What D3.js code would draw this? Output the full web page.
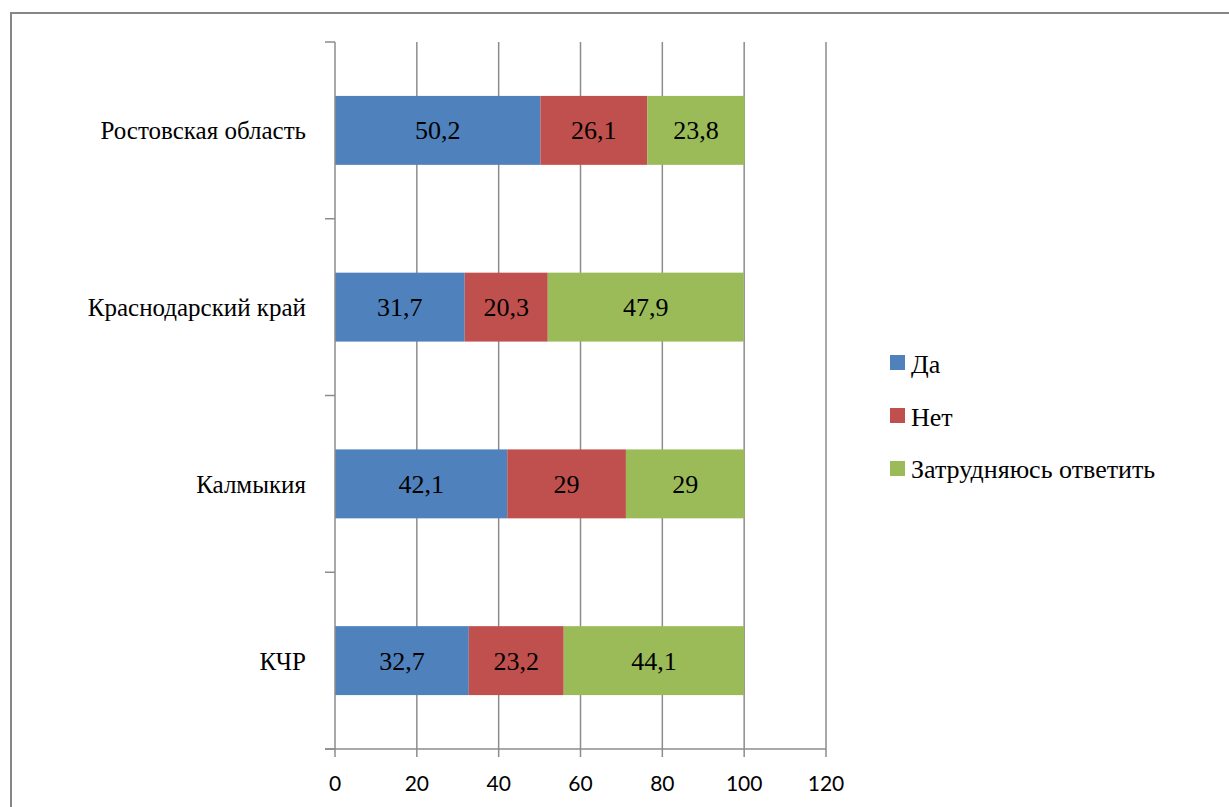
<!DOCTYPE html>
<html><head><meta charset="utf-8">
<script src="https://cdn.jsdelivr.net/npm/d3@7"></script>
<style>
text.serif { font-family: "Liberation Serif" !important; }
text.sans { font-family: "Lato" !important; }
</style>
</head><body style="margin:0">
<svg id="c" width="1229" height="807"></svg>
<script>
const categories = ["Ростовская область", "Краснодарский край", "Калмыкия", "КЧР"];
const seriesNames = ["Да", "Нет", "Затрудняюсь ответить"];
const da = [50.2, 31.7, 42.1, 32.7];
const net = [26.1, 20.3, 29, 23.2];
const zatr = [23.8, 47.9, 29, 44.1];
const xTicks = [0, 20, 40, 60, 80, 100, 120];
const colors = ["#4F81BD", "#C0504D", "#9BBB59"];

const svg = d3.select("#c");
svg.append("rect").attr("x", 11).attr("y", 13).attr("width", 1240).attr("height", 820)
  .attr("fill", "none").attr("stroke", "#868686").attr("stroke-width", 2);

const pL = 335, pR = 826, pT = 42, pB = 749;
const xs = d3.scaleLinear().domain([0, 120]).range([pL, pR]);
const ys = d3.scaleBand().domain(categories).range([pT, pB]).paddingInner(0.61).paddingOuter(0.305);
const band = d3.scaleBand().domain(categories).range([pT, pB]);
const gridColor = "#8c8c8c";

svg.append("g").selectAll("line").data(xTicks.slice(1)).join("line")
  .attr("x1", d => xs(d)).attr("x2", d => xs(d)).attr("y1", pT).attr("y2", pB + 8)
  .attr("stroke", gridColor).attr("stroke-width", 1.5);

const rows = categories.map((c, i) => ({c, vals: [da[i], net[i], zatr[i]]}));
const segs = [];
rows.forEach(r => {
  let acc = 0;
  r.vals.forEach((v, k) => { segs.push({c: r.c, k, v, x0: acc, x1: acc + v}); acc += v; });
});
svg.append("g").selectAll("rect").data(segs).join("rect")
  .attr("x", d => xs(d.x0)).attr("y", d => ys(d.c)).attr("width", d => xs(d.x1) - xs(d.x0)).attr("height", ys.bandwidth())
  .attr("fill", d => colors[d.k]);

function serifText(sel) {
  sel.attr("class", "serif").attr("font-family", "Liberation Serif")
     .each(function () { this.style.setProperty("font-family", '"Liberation Serif"', "important"); });
}

svg.append("g").selectAll("text").data(segs).join("text")
  .attr("x", d => (xs(d.x0) + xs(d.x1)) / 2).attr("y", d => ys(d.c) + ys.bandwidth() / 2 + 9)
  .attr("text-anchor", "middle").attr("font-size", 26)
  .call(serifText)
  .text(d => String(d.v).replace(".", ","));

svg.append("line").attr("x1", pL).attr("x2", pL).attr("y1", pT).attr("y2", pB).attr("stroke", gridColor).attr("stroke-width", 1.5);
const yt = categories.map(c => band(c)).concat([pB]);
svg.append("g").selectAll("line").data(yt).join("line")
  .attr("x1", pL - 10).attr("x2", pL).attr("y1", d => d).attr("y2", d => d)
  .attr("stroke", gridColor).attr("stroke-width", 1.5);
svg.append("g").selectAll("text").data(categories).join("text")
  .attr("x", 306).attr("y", d => band(d) + band.bandwidth() / 2 + 9)
  .attr("text-anchor", "end").attr("font-size", 25)
  .call(serifText)
  .text(d => d);

svg.append("line").attr("x1", pL - 10).attr("x2", pR).attr("y1", pB).attr("y2", pB).attr("stroke", gridColor).attr("stroke-width", 1.5);
svg.append("line").attr("x1", pL).attr("x2", pL).attr("y1", pB).attr("y2", pB + 8).attr("stroke", gridColor).attr("stroke-width", 1.5);
svg.append("g").selectAll("text").data(xTicks).join("text")
  .attr("x", d => xs(d)).attr("y", 791).attr("text-anchor", "middle")
  .attr("font-size", 21).attr("class", "sans").attr("font-family", "Lato").text(d => d);

svg.append("g").selectAll("rect").data(seriesNames).join("rect")
  .attr("x", 890).attr("y", (d, i) => 355 + i * 53).attr("width", 15).attr("height", 15).attr("fill", (d, i) => colors[i]);
svg.append("g").selectAll("text").data(seriesNames).join("text")
  .attr("x", 911).attr("y", (d, i) => 373 + i * 52.5).attr("font-size", 26)
  .call(serifText).text(d => d);
</script></body></html>
